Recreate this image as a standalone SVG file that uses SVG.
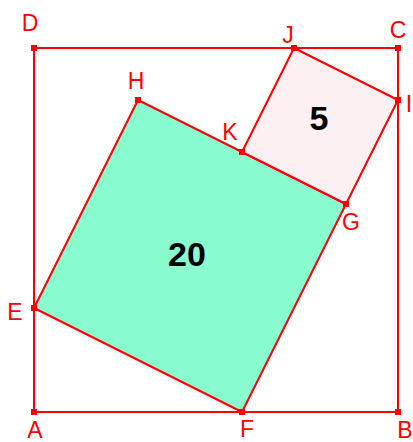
<svg xmlns="http://www.w3.org/2000/svg" width="413" height="442" viewBox="0 0 413 442">
<style>
.ln{stroke:#ff0000;stroke-width:2;fill:none;stroke-linejoin:round}
.green{fill:#88fbcf}
.pink{fill:#fdf0f3}
.pt{fill:#ff0000}
.lb{font-family:"Liberation Sans",Arial,sans-serif;font-size:23px;fill:#ff0000}
.num{font-family:"Liberation Sans",Arial,sans-serif;font-size:34px;font-weight:bold;fill:#000;text-anchor:middle}
</style>
<defs>
<rect id="p" x="-3" y="-3" width="6" height="6" class="pt"/>
</defs>
<rect width="413" height="442" fill="#fff"/>
<g id="big-square">
<polygon class="ln" points="34,412 398,412 398,48 34,48"/>
</g>
<g id="square-EFGH">
<polygon points="34,308 242,412 346,204 138,100" class="ln green"/>
<text class="num" x="187" y="266">20</text>
</g>
<g id="square-KGIJ">
<polygon points="242,152 346,204 398,100 294,48" class="ln pink"/>
<text class="num" x="319" y="130">5</text>
</g>
<g id="points">
<use href="#p" x="34" y="412"/>
<use href="#p" x="398" y="412"/>
<use href="#p" x="398" y="48"/>
<use href="#p" x="34" y="48"/>
<use href="#p" x="34" y="308"/>
<use href="#p" x="242" y="412"/>
<use href="#p" x="346" y="204"/>
<use href="#p" x="138" y="100"/>
<use href="#p" x="242" y="152"/>
<use href="#p" x="294" y="48"/>
<use href="#p" x="398" y="100"/>
</g>
<g id="labels" class="lb" text-anchor="middle">
<text x="35" y="438">A</text>
<text x="405" y="438">B</text>
<text x="398" y="38">C</text>
<text x="30" y="31">D</text>
<text x="15" y="320">E</text>
<text x="247" y="437">F</text>
<text x="351" y="230">G</text>
<text x="136" y="89">H</text>
<text x="409" y="112">I</text>
<text x="288" y="43">J</text>
<text x="230" y="140">K</text>
</g>
</svg>
